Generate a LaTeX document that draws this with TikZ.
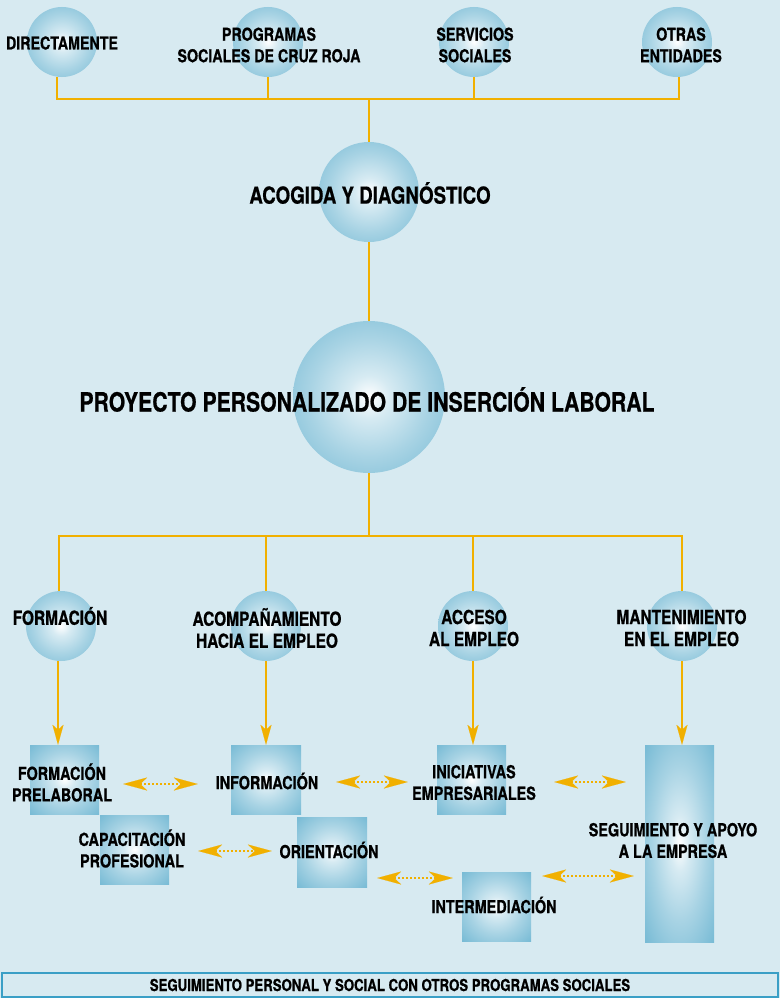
\documentclass[tikz,border=0pt]{standalone}
\usepackage{fontspec}
\setmainfont{TeX Gyre Heros}[FakeStretch=0.8, BoldFeatures={FakeBold=0.6}]
\usetikzlibrary{arrows.meta,calc}
\definecolor{bg}{HTML}{D7EAF1}
\definecolor{sblue}{HTML}{78BBD5}
\definecolor{orng}{HTML}{F1B000}
\definecolor{frame}{HTML}{3A9FC6}
\pgfdeclareradialshading{glow}{\pgfpoint{0bp}{0bp}}{color(0bp)=(white); color(7bp)=(sblue!30!white); color(20bp)=(sblue!65!white); color(35bp)=(sblue); color(100bp)=(sblue)}
\tikzset{
  ball/.style={circle, shading=glow, draw=none, inner sep=0pt},
  sq/.style={rectangle, shading=glow, draw=none, inner sep=0pt},
  lbl/.style={font=\fontsize{18}{21.5}\selectfont\bfseries, align=center, inner sep=0pt, text=black},
  lbltop/.style={lbl, font=\fontsize{17.8}{21.5}\selectfont\bfseries},
  lblmid/.style={lbl, font=\fontsize{19.3}{22}\selectfont\bfseries},
  oline/.style={draw=orng, line width=2.6pt},
  downarrow/.style={draw=orng, line width=2.3pt, -{Stealth[length=20pt,width=11pt,inset=5pt,line width=0.1pt]}},
  darrow/.style={draw=orng, line width=1.8pt, dash pattern=on 1.8pt off 2.2pt,
    {Stealth[length=24pt,width=13pt,inset=7pt,line width=0.1pt]}-{Stealth[length=24pt,width=13pt,inset=7pt,line width=0.1pt]}},
}
\begin{document}
\begin{tikzpicture}[x=1pt,y=-1pt]
\fill[bg] (0,0) rectangle (780,998);
\useasboundingbox (0,0) rectangle (780,998);

% top row
\node[ball, minimum size=70pt] (dir) at (62,42) {};
\node[ball, minimum size=70pt] (prog) at (268,42) {};
\node[ball, minimum size=70pt] (serv) at (474,42) {};
\node[ball, minimum size=70pt] (otras) at (677,42) {};
\coordinate (h1) at (369,99);
\node[ball, minimum size=100pt] (acog) at (369,192) {};
\node[ball, minimum size=152pt] (pers) at (369,397) {};

\draw[oline] ([xshift=-5pt]dir.south) |- (h1) -| ([xshift=2pt]otras.south);
\draw[oline] (prog.south) -- (prog.south |- h1);
\draw[oline] (serv.south) -- (serv.south |- h1);
\draw[oline] (h1) -- (acog.north);
\draw[oline] (acog.south) -- (pers.north);

% second row
\node[ball, minimum size=70pt] (form) at (61,626) {};
\node[ball, minimum size=70pt] (acomp) at (266,626) {};
\node[ball, minimum size=70pt] (acc) at (473,626) {};
\node[ball, minimum size=70pt] (mant) at (682,626) {};
\coordinate (h2) at (369,536);
\draw[oline] (pers.south) -- (h2);
\draw[oline] ([xshift=-2pt]form.north) |- (h2) -| (mant.north);
\draw[oline] (acomp.north) -- (acomp.north |- h2);
\draw[oline] (acc.north) -- (acc.north |- h2);

% boxes
\node[sq, minimum width=69pt, minimum height=69pt] (fp) at (64.5,779.5) {};
\node[sq, minimum width=70pt, minimum height=69pt] (inf) at (266,779.5) {};
\node[sq, minimum width=69pt, minimum height=69pt] (ini) at (471.5,779.5) {};
\node[sq, minimum width=69pt, minimum height=69pt] (cap) at (134.5,849.5) {};
\node[sq, minimum width=70pt, minimum height=70pt] (ori) at (332,852) {};
\node[sq, minimum width=69pt, minimum height=197pt] (seg) at (679.5,843.5) {};
\node[sq, minimum width=69pt, minimum height=69pt] (int) at (496.5,906.5) {};

% down arrows
\coordinate (d1) at ([xshift=-3pt]form.south);
\draw[downarrow] (d1) -- (d1 |- fp.north);
\draw[downarrow] (acomp.south) -- (acomp.south |- inf.north);
\draw[downarrow] (acc.south) -- (acc.south |- ini.north);
\draw[downarrow] (mant.south) -- (mant.south |- seg.north);

% double arrows
\coordinate (a1) at ([yshift=-4.5pt]fp.east);
\draw[darrow, shorten <=24pt, shorten >=33pt] (a1) -- (a1 -| inf.west);
\coordinate (a2) at ([yshift=-2.5pt]inf.east);
\draw[darrow, shorten <=35pt, shorten >=29pt] (a2) -- (a2 -| ini.west);
\coordinate (a3) at ([yshift=-2.5pt]ini.east);
\draw[darrow, shorten <=48pt, shorten >=19pt] (a3) -- (a3 -| seg.west);
\coordinate (a4) at ([yshift=-1.5pt]cap.east);
\draw[darrow, shorten <=29pt, shorten >=25pt] (a4) -- (a4 -| ori.west);
\coordinate (a5) at ([yshift=-26pt]ori.east);
\draw[darrow, shorten <=10pt, shorten >=9pt] (a5) -- (a5 -| int.west);
\coordinate (a6) at ([yshift=30.5pt]int.east);
\draw[darrow, shorten <=11pt, shorten >=11pt] (a6) -- (a6 -| seg.west);

% labels
\node[lbltop] (tdir) at (62,43) {DIRECTAMENTE};
\node[lbltop] (tprog) at (269,45) {PROGRAMAS\\SOCIALES DE CRUZ ROJA};
\node[lbltop] (tserv) at (475,45) {SERVICIOS\\SOCIALES};
\node[lbltop] (totras) at (681,45) {OTRAS\\ENTIDADES};
\node[lbl, font=\fontsize{23.4}{27}\selectfont\bfseries] (tacog) at (370,193) {ACOGIDA Y DIAGNÓSTICO};
\node[lbl, font=\fontsize{26.5}{30}\selectfont\bfseries] (tpers) at (367,399.5) {PROYECTO PERSONALIZADO DE INSERCIÓN LABORAL};
\node[lblmid] (tform) at (60,616) {FORMACIÓN};
\node[lblmid] (tacomp) at (267,628) {ACOMPAÑAMIENTO\\HACIA EL EMPLEO};
\node[lblmid] (tacc) at (474,628) {ACCESO\\AL EMPLEO};
\node[lblmid] (tmant) at (681.5,628) {MANTENIMIENTO\\EN EL EMPLEO};
\node[lbl] (tfp) at (62,782.5) {FORMACIÓN\\PRELABORAL};
\node[lbl] (tinf) at (267,781) {INFORMACIÓN};
\node[lbl] (tini) at (474,782.5) {INICIATIVAS\\EMPRESARIALES};
\node[lbl] (tcap) at (132,848.5) {CAPACITACIÓN\\PROFESIONAL};
\node[lbl] (tori) at (329,850) {ORIENTACIÓN};
\node[lbl] (tseg) at (673,840.5) {SEGUIMIENTO Y APOYO\\A LA EMPRESA};
\node[lbl] (tint) at (494,905) {INTERMEDIACIÓN};

% footer
\node[draw=frame, line width=1.2pt, minimum width=776pt, minimum height=24pt, inner sep=0pt,
      font=\fontsize{16.5}{18}\selectfont\bfseries] (foot) at (390,985)
      {SEGUIMIENTO PERSONAL Y SOCIAL CON OTROS PROGRAMAS SOCIALES};
\end{tikzpicture}
\end{document}
